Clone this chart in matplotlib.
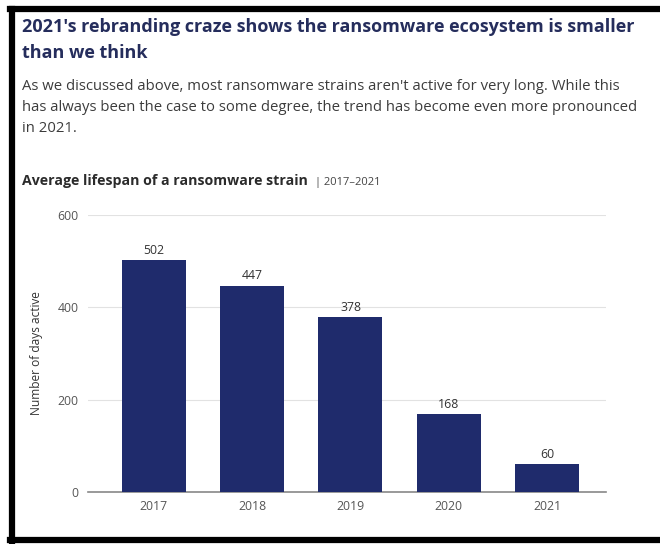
import matplotlib.pyplot as plt
import matplotlib.lines as ml

years = ['2017', '2018', '2019', '2020', '2021']
days = [502, 447, 378, 168, 60]
yticks = [0, 200, 400, 600]

navy = '#1f2b6c'
font = ['Open Sans', 'DejaVu Sans']
plt.rcParams['font.family'] = font

fig = plt.figure(figsize=(6.6, 5.44), dpi=100)

# frame: thick black lines on top, left and bottom
W, H = 660.0, 544.0
for (x0, y0, x1, y1) in [(10, 9, 660, 9), (12, 9, 12, 541), (10, 540, 660, 540)]:
    fig.add_artist(ml.Line2D([x0 / W, x1 / W], [1 - y0 / H, 1 - y1 / H],
                             color='black', linewidth=4.5, transform=fig.transFigure))

fig.text(22 / W, 1 - 32 / H, "2021's rebranding craze shows the ransomware ecosystem is smaller",
         fontsize=13.0, fontweight='bold', color='#252d5c', va='baseline')
fig.text(22 / W, 1 - 58 / H, "than we think",
         fontsize=13.0, fontweight='bold', color='#252d5c', va='baseline')

body = ["As we discussed above, most ransomware strains aren't active for very long. While this",
        "has always been the case to some degree, the trend has become even more pronounced",
        "in 2021."]
for i, line in enumerate(body):
    fig.text(22 / W, 1 - (90 + 21 * i) / H, line, fontsize=10.7, color='#3c3c3c', va='baseline')

t = fig.text(22 / W, 1 - 185 / H, "Average lifespan of a ransomware strain", fontsize=10.2,
             fontweight='bold', color='#2b2b2b', va='baseline')
fig.canvas.draw()
bb = t.get_window_extent()
fig.text((bb.x1 + 7) / W, 1 - 185 / H, "| 2017\u20132021", fontsize=8.0, color='#444444', va='baseline')

ax = fig.add_axes([88 / W, 1 - 492 / H, (606 - 88) / W, (492 - 215) / H])
x = range(len(years))
bars = ax.bar(x, days, width=0.65, color=navy, zorder=3)
for xi, v in zip(x, days):
    ax.text(xi, v + 8, str(v), ha='center', va='bottom', fontsize=8.8, color='#333333')

ax.set_ylim(0, 600)
ax.set_xlim(-0.67, 4.6)
ax.set_yticks(yticks)
ax.set_xticks(list(x))
ax.set_xticklabels(years)
ax.tick_params(axis='both', length=0, labelsize=8.8, labelcolor='#555555')
ax.tick_params(axis='y', pad=7)
ax.tick_params(axis='x', pad=6)
ax.grid(axis='y', color='#e2e2e2', linewidth=0.8, zorder=0)
for s in ['top', 'right', 'left']:
    ax.spines[s].set_visible(False)
ax.spines['bottom'].set_color('#888888')
ax.spines['bottom'].set_linewidth(1.2)
ax.set_ylabel('Number of days active', fontsize=8.6, color='#333333', labelpad=10)

fig.savefig('out.png', dpi=100)
